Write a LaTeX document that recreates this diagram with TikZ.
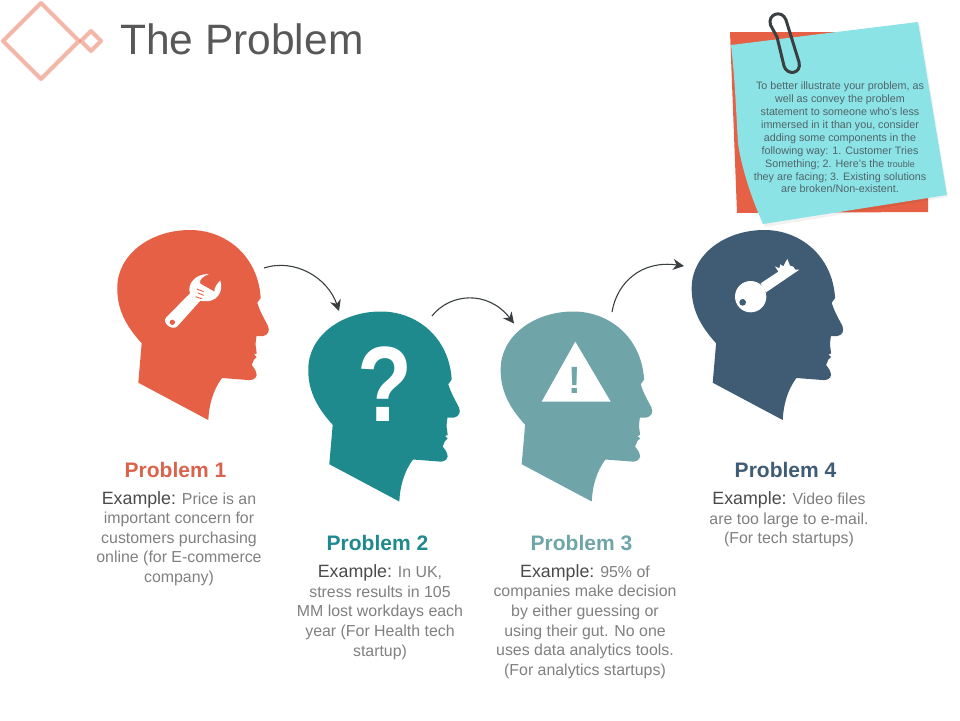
\documentclass[tikz,border=0pt]{standalone}
\usepackage{fontspec}
\setmainfont{Liberation Sans}
\usetikzlibrary{arrows.meta}
\definecolor{cRed}{HTML}{E56044}
\definecolor{cHead}{HTML}{D9634C}
\definecolor{cTeal}{HTML}{1E8A8E}
\definecolor{cSage}{HTML}{6FA5A8}
\definecolor{cNavy}{HTML}{3F5C74}
\definecolor{cCyan}{HTML}{8CE3E6}
\definecolor{cTitle}{HTML}{585858}
\definecolor{cDark}{HTML}{4A4A4A}
\definecolor{cGrey}{HTML}{808080}
\definecolor{cNote}{HTML}{4F6468}
\definecolor{cClip}{HTML}{3A3F42}
\newcommand{\headshape}[3]{%
  \fill[#3,shift={(#1,#2)}] (141.7,343.3)
    .. controls (125,325) and (117,308) .. (117.3,288)
    .. controls (117,255) and (150,230) .. (190,230)
    .. controls (225,230) and (258,255) .. (260.7,298)
    -- (257.3,302.7)
    .. controls (260,312) and (265,320) .. (268,326)
    .. controls (270,331) and (268,335) .. (263,336)
    -- (256.5,336)
    .. controls (256,340) and (255,345) .. (256,348)
    -- (256.7,353.5) -- (254,354.5) -- (256.7,357) -- (254,359.5) -- (251.7,365)
    .. controls (254,368) and (256,370) .. (256.7,375)
    .. controls (256,379) and (252,380.5) .. (248,380)
    -- (222,378)
    .. controls (213,390) and (209,405) .. (208.3,420)
    -- (138.3,382.7) -- cycle;}
\tikzset{
  x=1pt,y=-1pt,
  conn/.style={draw=cClip,line width=1.1pt,-{Stealth[length=11pt,width=11pt,inset=3.5pt]}},
  ptitle/.style={font=\fontsize{21}{24}\selectfont\bfseries,inner sep=0pt},
  pbody/.style={font=\fontsize{15.9}{19.6}\selectfont,text=cGrey,align=center,inner sep=0pt},
  deco/.style={draw=cRed,draw opacity=.45,line width=4pt,line join=round},
}
\newcommand{\ex}{{\fontsize{17.8}{19.6}\selectfont\color{cDark}Example:}}
\begin{document}
\begin{tikzpicture}
\useasboundingbox (0,0) rectangle (960,720);
\fill[white] (0,0) rectangle (960,720);
% logo
\draw[deco] (41,3) -- (79,41) -- (41,79) -- (3,41) -- cycle;
\draw[deco] (91,31) -- (101,41) -- (91,51) -- (81,41) -- cycle;
\node[anchor=west,inner sep=0pt,text=cTitle,font=\fontsize{42.5}{50}\selectfont] (title) at (120,39.5) {The Problem};
% sticky note
\fill[cRed] (730,32) -- (850,32) -- (928,190) -- (928,212) -- (737,213) -- cycle;
\fill[black,opacity=.05] (732,48) .. controls (736,110) and (742,180) .. (765,227) -- (948,197) -- (920,25) -- cycle;
\fill[cCyan] (731,45) -- (918,22) -- (947,195) -- (763,224)
  .. controls (750,195) and (741,165) .. (738,143)
  .. controls (736,110) and (735,80) .. (731,45) -- cycle;
\draw[cClip,line width=3pt,line cap=round] (777,37) -- (770.5,25)
  .. controls (767,14) and (782,9) .. (786,20)
  -- (799,62)
  .. controls (802,74) and (787,76) .. (784,66)
  -- (777,37);
\node[inner sep=0pt,align=center,text=cNote,font=\fontsize{10.75}{12.9}\selectfont] (note) at (840,137.5)
 {To better illustrate your problem, as\\ well as convey the problem\\ statement to someone who’s less\\ immersed in it than you, consider\\ adding some components in the\\ following way: 1. Customer Tries\\ Something; 2. Here’s the {\fontsize{9}{12.9}\selectfont trouble}\\ they are facing; 3. Existing solutions\\ are broken/Non-existent.};
% heads
\headshape{0}{0}{cRed}
\headshape{191}{81.5}{cTeal}
\headshape{383.4}{81.5}{cSage}
\headshape{574.4}{0}{cNavy}
% wrench
\begin{scope}[shift={(155,265)},scale=.3333]
\fill[white] (33,158) -- (105,85) .. controls (96,60) and (118,26) .. (162,27)
  .. controls (145,33) and (130,45) .. (136,56)
  -- (178,80) .. controls (178,68) and (186,55) .. (196,47)
  .. controls (206,75) and (190,118) .. (136,107)
  -- (66,185) .. controls (50,198) and (20,172) .. (33,158) -- cycle;
\fill[cRed] (52,172) circle[radius=8];
\draw[cRed,line width=.9pt] (125,72) -- (146,80) (129,84) -- (146,91) (122,95) -- (140,101);
\end{scope}
% question mark, warning sign
\node[inner sep=0pt,text=white,transform shape,xscale=.9,yscale=1.07,font=\fontsize{100}{100}\selectfont\bfseries] (qm) at (384.5,384.5) {?};
\fill[white] (575.3,341.7) -- (610.7,401.7) -- (541.7,401.7) -- cycle;
\node[inner sep=0pt,text=cSage,font=\fontsize{38}{38}\selectfont\bfseries] (warn) at (575,380) {!};
% key
\begin{scope}[shift={(730,255)},scale=.3333]
\fill[white] (62,125) circle[radius=47];
\fill[white] (92,85) -- (145,50) -- (135,34) -- (148,40) -- (151,28) -- (160,34) -- (165,24) -- (172,12) -- (180,32) -- (190,35) -- (196,44) -- (208,44) -- (108,112) -- cycle;
\fill[cNavy] (38,142) circle[radius=10];
\end{scope}
% connectors
\coordinate (a1) at (264,268); \coordinate (b1) at (339,311);
\coordinate (a2) at (432,316); \coordinate (b2) at (514,323.5);
\coordinate (a3) at (612,312); \coordinate (b3) at (684,266);
\draw[conn] (a1) .. controls (295,258) and (328,278) .. (b1);
\draw[conn] (a2) .. controls (450,293) and (488,290) .. (b2);
\draw[conn] (a3) .. controls (617,282) and (642,260) .. (b3);
% labels
\node[ptitle,text=cHead] (t1) at (175.5,470) {Problem 1};
\node[ptitle,text=cTeal] (t2) at (377.5,543) {Problem 2};
\node[ptitle,text=cSage] (t3) at (581.5,543) {Problem 3};
\node[ptitle,text=cNavy] (t4) at (785.5,470) {Problem 4};
\node[pbody] (p1) at (179,538.5) {\ex{} Price is an\\ important concern for\\ customers purchasing\\ online (for E-commerce\\ company)};
\node[pbody] (p2) at (380,612) {\ex{} In UK,\\ stress results in 105\\ MM lost workdays each\\ year (For Health tech\\ startup)};
\node[pbody] (p3) at (585,621.5) {\ex{} 95\% of\\ companies make decision\\ by either guessing or\\ using their gut. No one\\ uses data analytics tools.\\ (For analytics startups)};
\node[pbody] (p4) at (789,519.5) {\ex{} Video files\\ are too large to e-mail.\\ (For tech startups)};
\end{tikzpicture}
\end{document}
